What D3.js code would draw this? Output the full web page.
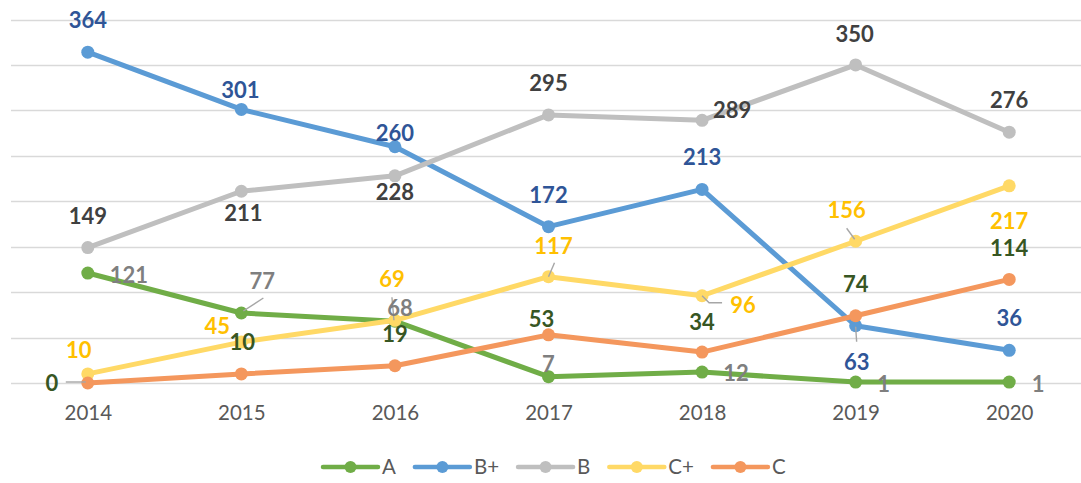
<!DOCTYPE html>
<html>
<head>
<meta charset="utf-8">
<script src="https://cdn.jsdelivr.net/npm/d3@7"></script>
<style>
  body { margin: 0; background: #fff; }
  svg { display: block; font-family: Lato, "Open Sans", sans-serif; }
</style>
</head>
<body>
<svg id="chart"></svg>
<script>
// values
var years = ["2014", "2015", "2016", "2017", "2018", "2019", "2020"];
var seriesNames = ["A", "B+", "B", "C+", "C"];
var valuesA = [121, 77, 68, 7, 12, 1, 1];
var valuesBplus = [364, 301, 260, 172, 213, 63, 36];
var valuesB = [149, 211, 228, 295, 289, 350, 276];
var valuesCplus = [10, 45, 69, 117, 96, 156, 217];
var valuesC = [0, 10, 19, 53, 34, 74, 114];
var yTicks = [0, 50, 100, 150, 200, 250, 300, 350, 400];

var width = 1081,
    height = 483;

var lineColors = ["#70AD47", "#5B9BD5", "#BFBFBF", "#FFD966", "#F4975D"];
var labelColors = ["#7F7F7F", "#2F5597", "#404040", "#FFC000", "#375623"];

// label offsets from each point, [dx, dy] (excel placed these by hand)
var labelOffsets = [
    [[41, 2], [21, -32], [5, -13], [0, -13], [34, 1], [28, 2], [29, 2]],
    [[0, -32], [-1, -19], [0, -14], [0, -32], [0, -32], [1, 36], [0, -32]],
    [[0, -32], [2, 22], [0, 16], [0, -32], [30, -10], [-1, -31], [0, -32]],
    [[-9, -24], [-24, -16], [-3, -41], [5, -31], [41, 9], [-9, -31], [0, 35]],
    [[-36, 0], [1, -32], [0, -32], [-7, -16], [0, -30], [0, -32], [0, -31]]
];

// leader lines: series index, year index, polyline relative to the point
var leaders = [
    {s: 0, i: 1, pts: [[2, -2], [22, -15]]},
    {s: 3, i: 2, pts: [[-3, -23], [-1, 0]]},
    {s: 3, i: 3, pts: [[6, -14], [0, 0]]},
    {s: 3, i: 4, pts: [[0, 0], [7, 7], [20, 7]]},
    {s: 3, i: 5, pts: [[-9, -13], [-1, -2]]},
    {s: 1, i: 5, pts: [[0, 1], [1, 16]]},
    {s: 4, i: 0, pts: [[-22, -1], [-2, -1]]}
];

var allValues = [valuesA, valuesBplus, valuesB, valuesCplus, valuesC];

var series = seriesNames.map(function (name, k) {
    return {
        name: name,
        color: lineColors[k],
        labelColor: labelColors[k],
        values: allValues[k].map(function (v, i) {
            return {year: years[i], value: v, off: labelOffsets[k][i]};
        })
    };
});

var x = d3.scalePoint()
    .domain(years)
    .range([11, 1086])
    .padding(0.5);

var y = d3.scaleLinear()
    .domain([0, 400])
    .range([383, 19.5]);

var svg = d3.select("#chart")
    .attr("width", width)
    .attr("height", height);

// gridlines
svg.append("g")
    .selectAll("line")
    .data(yTicks)
    .enter()
    .append("line")
    .attr("x1", 11)
    .attr("x2", width)
    .attr("y1", function (d) { return Math.round(y(d)) + 0.5; })
    .attr("y2", function (d) { return Math.round(y(d)) + 0.5; })
    .style("stroke", "#D9D9D9")
    .style("stroke-width", "1.5px");

// category axis
var xAxis = svg.append("g")
    .attr("transform", "translate(0," + 383 + ")")
    .call(d3.axisBottom(x).tickSize(0).tickPadding(22));
xAxis.select(".domain").remove();
xAxis.selectAll("text")
    .style("font-size", "20.5px")
    .style("font-family", "Lato, sans-serif")
    .style("fill", "#595959");

var line = d3.line()
    .x(function (d) { return x(d.year); })
    .y(function (d) { return y(d.value); });

var g = svg.append("g");

series.forEach(function (s) {
    g.append("path")
        .datum(s.values)
        .attr("d", line)
        .style("fill", "none")
        .style("stroke", s.color)
        .style("stroke-width", "5px")
        .style("stroke-linejoin", "round")
        .style("stroke-linecap", "round");

    g.selectAll(null)
        .data(s.values)
        .enter()
        .append("circle")
        .attr("cx", function (d) { return x(d.year); })
        .attr("cy", function (d) { return y(d.value); })
        .attr("r", 6.5)
        .style("fill", s.color);
});

// leader lines
svg.append("g")
    .selectAll("polyline")
    .data(leaders)
    .enter()
    .append("polyline")
    .attr("points", function (d) {
        var px = x(years[d.i]), py = y(allValues[d.s][d.i]);
        return d.pts.map(function (p) { return (px + p[0]) + "," + (py + p[1]); }).join(" ");
    })
    .style("fill", "none")
    .style("stroke", "#A6A6A6")
    .style("stroke-width", "1.4px");

// data labels
series.forEach(function (s) {
    svg.append("g")
        .selectAll("text")
        .data(s.values)
        .enter()
        .append("text")
        .attr("x", function (d) { return x(d.year) + d.off[0]; })
        .attr("y", function (d) { return y(d.value) + d.off[1]; })
        .attr("text-anchor", "middle")
        .attr("dy", "0.36em")
        .style("font-size", "22px")
        .style("font-weight", "bold")
        .style("fill", s.labelColor)
        .text(function (d) { return d.value; });
});

// legend
var legend = svg.append("g")
    .attr("transform", "translate(323,467)");
var lx = 0;
series.forEach(function (s) {
    var item = legend.append("g").attr("transform", "translate(" + lx + ",0)");
    item.append("line")
        .attr("x1", 0).attr("x2", 55)
        .style("stroke", s.color)
        .style("stroke-width", "4.5px")
        .style("stroke-linecap", "round");
    item.append("circle")
        .attr("cx", 27.5)
        .attr("r", 6)
        .style("fill", s.color);
    var t = item.append("text")
        .attr("x", 59)
        .attr("dy", "0.36em")
        .style("font-size", "20.5px")
        .style("fill", "#595959")
        .text(s.name);
    lx += 59 + t.node().getComputedTextLength() + 19;
});
</script>
</body>
</html>
